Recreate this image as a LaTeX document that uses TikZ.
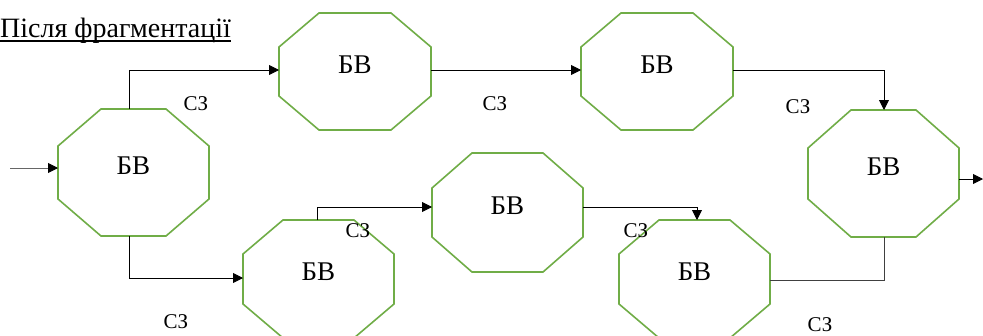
\documentclass[tikz,border=0pt]{standalone}
\usepackage{fontspec}
\setmainfont{Liberation Serif}
\usetikzlibrary{arrows.meta,calc}
\definecolor{octgreen}{HTML}{70AD47}
\tikzset{
  octbox/.style={draw=none,inner sep=0pt,outer sep=0pt},
  octline/.style={draw=octgreen,line width=1.6pt,line join=miter},
  bvtext/.style={inner sep=0pt,font=\fontsize{27}{32}\selectfont},
  sztext/.style={inner sep=0pt,font=\fontsize{21}{25}\selectfont},
  conn/.style={draw=black,line width=0.9pt,-{Triangle[length=10pt,width=10pt,color=black]}},
  connplain/.style={draw=black!75,line width=0.9pt}
}
% name, cx, cy, width, height, cut x, cut y
\newcommand\octnode[7]{%
  \node[octbox,minimum width=#4pt,minimum height=#5pt] (#1) at (#2,#3) {};
  \draw[octline] ([xshift=#6pt]#1.north west) -- ([xshift=-#6pt]#1.north east)
    -- ([yshift=-#7pt]#1.north east) -- ([yshift=#7pt]#1.south east)
    -- ([xshift=-#6pt]#1.south east) -- ([xshift=#6pt]#1.south west)
    -- ([yshift=#7pt]#1.south west) -- ([yshift=-#7pt]#1.north west) -- cycle;
  \node[bvtext] (#1t) at ([yshift=7pt]#1.center) {БВ};
}
\begin{document}
\begin{tikzpicture}[x=1pt,y=-1pt]
\useasboundingbox (0,0) rectangle (983,335);
\fill[white] (0,0) rectangle (983,335);

% title
\node[anchor=base east,inner sep=0pt,font=\fontsize{28}{33}\selectfont] (title) at (231,37.7) {Після фрагментації};
\draw[line width=1.3pt] ([yshift=-3.3pt]title.base west) -- ([yshift=-3.3pt]title.base east);

% octagons
\octnode{A}{133.5}{172.5}{151}{127}{43}{37}
\octnode{B}{355}{71.5}{152}{117}{40}{34}
\octnode{C}{657}{71.5}{152}{117}{40}{34}
\octnode{G}{883.5}{173.5}{151}{127}{43}{38}
\octnode{D}{318.5}{279}{151}{118}{40}{34}
\octnode{E}{507.5}{212.5}{151}{119}{40}{35}
\octnode{F}{694.5}{279}{151}{118}{40}{34}

% connectors
\coordinate (in) at (10,168);
\coordinate (out) at (983,179);
\draw[conn,draw=black!60] (in) -- (in -| A.west);
\draw[conn] ([xshift=-4.5pt]A.north) |- ([yshift=1.5pt]B.west);
\draw[conn] ([yshift=1.5pt]B.east) -- ([yshift=1.5pt]C.west);
\draw[conn] ([yshift=1.5pt]C.east) -| ([xshift=0.5pt]G.north);
\draw[conn] (G.east |- out) -- (out);
\draw[conn] ([xshift=-4.5pt]A.south) |- ([yshift=1pt]D.west);
\draw[conn] ([xshift=-1.5pt]D.north) |- ([yshift=5.5pt]E.west);
\draw[conn] ([yshift=5.5pt]E.east) -| ([xshift=2.5pt]F.north);
\draw[connplain] ([yshift=-1pt]F.east) -| ([xshift=0.5pt]G.south);

% labels
\node[sztext] (l1) at (196,104) {СЗ};
\node[sztext] (l2) at (495,104) {СЗ};
\node[sztext] (l3) at (798,107) {СЗ};
\node[sztext] (l4) at (176,322) {СЗ};
\node[sztext] (l5) at (358,231) {СЗ};
\node[sztext] (l6) at (636,231) {СЗ};
\node[sztext] (l7) at (820,325) {СЗ};
\end{tikzpicture}
\end{document}
